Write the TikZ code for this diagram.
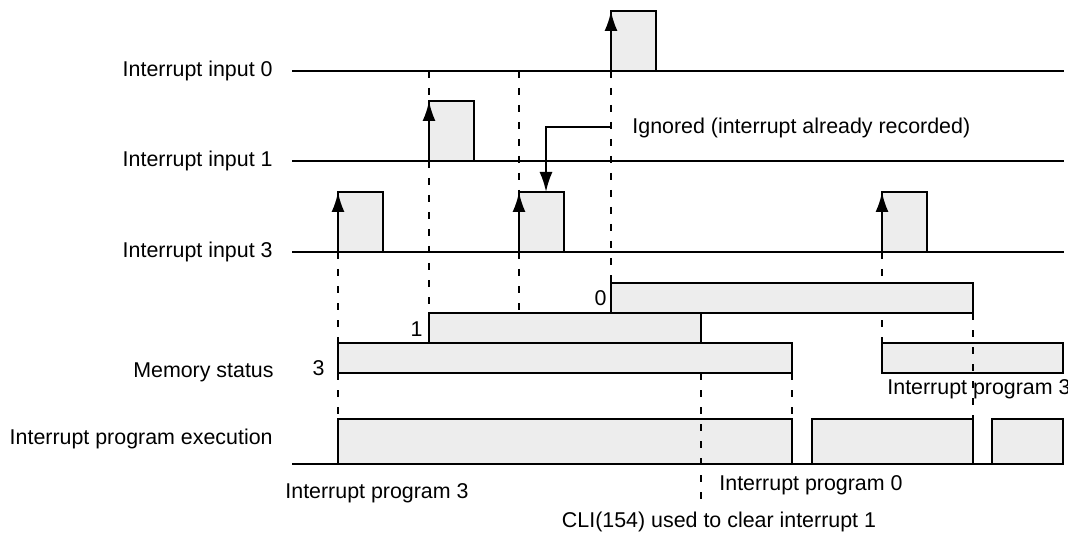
\documentclass[tikz,border=0pt]{standalone}
\usepackage{fontspec}
\setmainfont{Liberation Sans}
\usetikzlibrary{arrows.meta}

\begin{document}
\begin{tikzpicture}[x=0.5pt,y=-0.5pt,>={Latex[length=10pt,width=6.5pt]},
  sig/.style={line width=1.1pt},
  pulse/.style={draw=black,line width=1.1pt,fill=black!7},
  guide/.style={line width=1.1pt,dash pattern=on 3.5pt off 5pt},
  lbl/.style={font=\fontsize{10.7}{12}\selectfont,inner sep=0pt}]
\useasboundingbox (0,0) rectangle (1068,539);
% row labels
\node[lbl,anchor=east] (in0) at (273,71) {Interrupt input 0};
\node[lbl,anchor=east] (in1) at (273,161) {Interrupt input 1};
\node[lbl,anchor=east] (in3) at (273,252) {Interrupt input 3};
\node[lbl,anchor=east] (mem) at (274,372) {Memory status};
\node[lbl,anchor=east] (exe) at (273,439) {Interrupt program execution};
% guide lines behind the bars
\draw[guide] (338,252) -- (338,343);
\draw[guide] (338,373) -- (338,419);
\draw[guide] (429,71) -- (429,101);
\draw[guide] (429,161) -- (429,313);
\draw[guide] (519,71) -- (519,192);
\draw[guide] (519,252) -- (519,313);
\draw[guide] (611,71) -- (611,283);
\draw[guide] (882,252) -- (882,343);
% input lines
\coordinate (l0) at (292,71);
\coordinate (l1) at (292,161);
\coordinate (l3) at (292,252);
\draw[sig] (l0) -- (1064,71);
\draw[sig] (l1) -- (1064,161);
\draw[sig] (l3) -- (1064,252);
% pulses
\coordinate (p0) at (611,71);
\coordinate (p1) at (429,161);
\coordinate (p3a) at (338,252);
\coordinate (p3b) at (519,252);
\coordinate (p3c) at (882,252);
\draw[pulse] (p0) rectangle ++(45,-60);
\draw[pulse] (p1) rectangle ++(45,-60);
\draw[pulse] (p3a) rectangle ++(45,-60);
\draw[pulse] (p3b) rectangle ++(45,-60);
\draw[pulse] (p3c) rectangle ++(45,-60);
\draw[sig,->] (p0) -- ++(0,-60);
\draw[sig,->] (p1) -- ++(0,-60);
\draw[sig,->] (p3a) -- ++(0,-60);
\draw[sig,->] (p3b) -- ++(0,-60);
\draw[sig,->] (p3c) -- ++(0,-60);
% ignored interrupt
\node[lbl,anchor=west] (ign) at (632,128) {Ignored (interrupt already recorded)};
\coordinate (igs) at (611,127);
\draw[sig,->] (igs) -- (546,127) -- (546,192);
% memory status
\draw[pulse] (611,283) rectangle (973,313);
\draw[pulse] (429,313) rectangle (701,343);
\draw[pulse] (338,343) rectangle (792,373);
\draw[pulse] (882,343) rectangle (1063,373);
\node[lbl,anchor=east] (m0) at (607,298) {0};
\node[lbl,anchor=east] (m1) at (423,329) {1};
\node[lbl,anchor=east] (m3) at (325,368) {3};
% program execution
\draw[sig] (292,464) -- (1063,464);
\draw[pulse] (338,419) rectangle (792,464);
\draw[pulse] (812,419) rectangle (973,464);
\draw[pulse] (992,419) rectangle (1063,464);
% guide lines over the bars
\draw[guide] (973,313) -- (973,419);
\draw[guide] (792,373) -- (792,419);
\draw[guide] (701,373) -- (701,508);
% notes
\node[lbl,anchor=west] (ip3r) at (887,389) {Interrupt program 3};
\node[lbl,anchor=west] (ip3) at (285,493) {Interrupt program 3};
\node[lbl,anchor=west] (ip0) at (719,485) {Interrupt program 0};
\node[lbl] (cli) at (719,522) {CLI(154) used to clear interrupt 1};
\end{tikzpicture}
\end{document}
